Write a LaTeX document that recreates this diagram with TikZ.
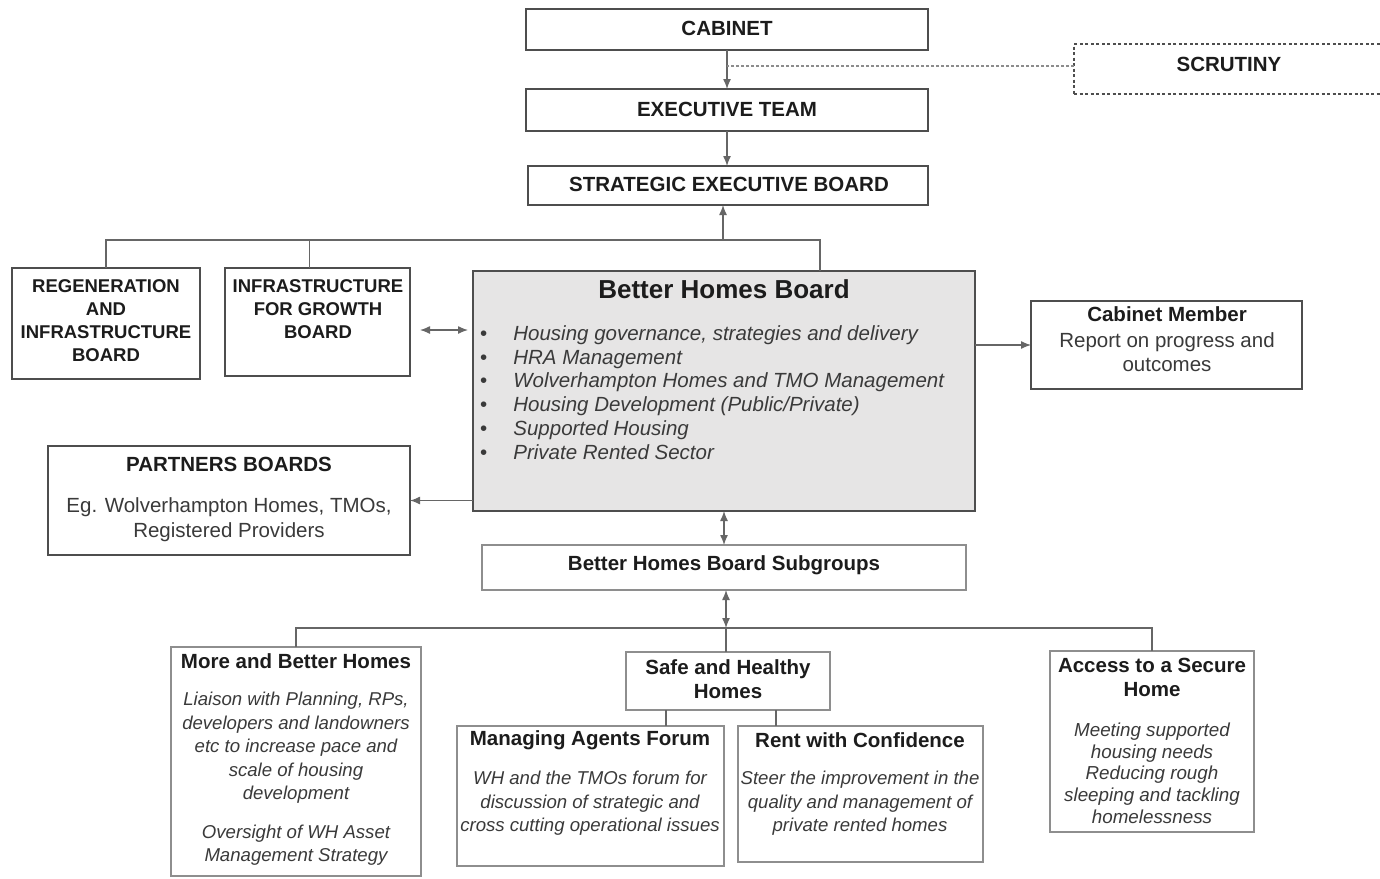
\documentclass[tikz,border=0pt]{standalone}
\usepackage{fontspec}
\setmainfont{Liberation Sans}
\usetikzlibrary{arrows.meta}
\definecolor{bord}{HTML}{4E4E4E}
\definecolor{lbord}{HTML}{8E8E8E}
\definecolor{cgray}{HTML}{666666}
\definecolor{ttl}{HTML}{1C1C1C}
\definecolor{txt}{HTML}{3A3A3A}
\definecolor{bhbfill}{HTML}{E6E5E5}
\newcommand\bnode[6]{\node[#6, minimum width={(#4-#2)*1pt}, minimum height={(#5-#3)*1pt}] (#1) at ({(#2+#4)/2},{(#3+#5)/2}) {};}
\tikzset{
  box/.style={draw=bord, line width=1.6pt, rectangle, inner sep=0pt, outer sep=0pt},
  lbox/.style={draw=lbord, line width=1.3pt, rectangle, inner sep=0pt, outer sep=0pt},
  dbox/.style={draw=bord, line width=1.3pt, dash pattern=on 3pt off 2.5pt, rectangle, inner sep=0pt, outer sep=0pt},
  tb/.style={font=\fontsize{20.5}{24}\selectfont\bfseries, text=ttl, align=center, inner sep=0pt},
  tbs/.style={font=\fontsize{18.5}{23}\selectfont\bfseries, text=ttl, align=center, inner sep=0pt},
  tn/.style={font=\fontsize{20.5}{24.5}\selectfont, text=txt, align=center, inner sep=0pt},
  ti/.style={font=\fontsize{18.6}{23.5}\selectfont\itshape, text=txt, align=center, inner sep=0pt},
  link/.style={draw=cgray, line width=1.3pt},
  dotl/.style={draw=black!45, line width=1.4pt, dash pattern=on 3pt off 2pt},
  arr/.style={link, -{Latex[length=10pt,width=8pt]}},
  darr/.style={link, {Latex[length=10pt,width=8pt]}-{Latex[length=10pt,width=8pt]}}
}
\begin{document}
\begin{tikzpicture}[x=1pt,y=-1pt]
\useasboundingbox[fill=white] (0,0) rectangle (1380,878);
% boxes
\bnode{cab}{526}{9}{928}{50}{box}
\bnode{scr}{1074}{44}{1386}{94}{dbox}
\bnode{exe}{526}{89}{928}{131}{box}
\bnode{strat}{528}{166}{928}{205}{box}
\bnode{regen}{12}{268}{200}{379}{box}
\bnode{infra}{225}{268}{410}{376}{box}
\bnode{bhb}{473}{271}{975}{511}{box, fill=bhbfill}
\bnode{cm}{1031}{301}{1302}{389}{box}
\bnode{pb}{48}{446}{410}{555}{box}
\bnode{sub}{482}{545}{966}{590}{lbox}
\bnode{more}{171}{647}{421}{876}{lbox}
\bnode{safe}{626}{652}{830}{710}{lbox}
\bnode{maf}{457}{726}{724}{866}{lbox}
\bnode{rwc}{738}{726}{983}{862}{lbox}
\bnode{acc}{1050}{651}{1254}{832}{lbox}
% texts
\node[tb] (tcab) at (727,28) {CABINET};
\node[tb] (tscr) at (1229,64) {SCRUTINY};
\node[tb] (texe) at (727,109) {EXECUTIVE TEAM};
\node[tb] (tstr) at (729,184) {STRATEGIC EXECUTIVE BOARD};
\node[tbs] (treg) at (106,321) {REGENERATION\\AND\\INFRASTRUCTURE\\BOARD};
\node[tbs] (tinf) at (318,309) {INFRASTRUCTURE\\FOR GROWTH\\BOARD};
\node[tb, font=\fontsize{26}{30}\selectfont\bfseries] (tbhb) at (724,289) {Better Homes Board};
\node[anchor=west, inner sep=0pt, text=txt, font=\fontsize{20.5}{23.8}\selectfont] (tlist) at (480,395) {%
\begin{tabular}{@{}l@{\hspace{26pt}}l@{}}
\textbullet & \textit{Housing governance, strategies and delivery}\\
\textbullet & \textit{HRA Management}\\
\textbullet & \textit{Wolverhampton Homes and TMO Management}\\
\textbullet & \textit{Housing Development (Public/Private)}\\
\textbullet & \textit{Supported Housing}\\
\textbullet & \textit{Private Rented Sector}
\end{tabular}};
\node[tb] (tcm1) at (1167,314) {Cabinet Member};
\node[tn] (tcm2) at (1167,352) {Report on progress and\\outcomes};
\node[tb] (tpb1) at (229,464) {PARTNERS BOARDS};
\node[tn] (tpb2) at (229,519.5) {Eg. Wolverhampton Homes, TMOs,\\Registered Providers};
\node[tb] (tsub) at (724,565) {Better Homes Board Subgroups};
\node[tb] (tmore1) at (296,661) {More and Better Homes};
\node[ti] (tmore2) at (296,748) {Liaison with Planning, RPs,\\developers and landowners\\etc to increase pace and\\scale of housing\\development};
\node[ti] (tmore3) at (296,845) {Oversight of WH Asset\\Management Strategy};
\node[tb] (tsafe) at (728,679) {Safe and Healthy\\Homes};
\node[tb] (tmaf1) at (590,740) {Managing Agents Forum};
\node[ti] (tmaf2) at (590,803.5) {WH and the TMOs forum for\\discussion of strategic and\\cross cutting operational issues};
\node[tb] (trwc1) at (860,740) {Rent with Confidence};
\node[ti] (trwc2) at (860,803.5) {Steer the improvement in the\\quality and management of\\private rented homes};
\node[tb] (tacc1) at (1152,677.5) {Access to a Secure\\Home};
\node[ti, font=\fontsize{18.8}{21.7}\selectfont\itshape] (tacc2) at (1152,773) {Meeting supported\\housing needs\\Reducing rough\\sleeping and tackling\\homelessness};
% connectors top
\draw[arr] (cab.south) -- (exe.north);
\path (scr.west) ++(0,-3) coordinate (sc1);
\draw[dotl] (sc1) -- (sc1 -| cab.south);
\draw[arr] (exe.south) -- (exe.south |- strat.north);
\coordinate (bus) at (723,240);
\path (bhb.north) ++(96,0) coordinate (bhbtop);
\draw[link] (regen.north) |- (bhbtop |- bus) -- (bhbtop);
\path (infra.north) ++(-8,0) coordinate (inftop);
\draw[link] (inftop) -- (inftop |- bus);
\draw[arr] (bus) -- (bus |- strat.south);
% side connectors
\path (infra.east) ++(10,8) coordinate (ia1);
\path (bhb.west |- ia1) ++(-5,0) coordinate (ia2);
\draw[darr] (ia1) -- (ia2);
\draw[arr] (bhb.east |- cm.west) -- (cm.west);
\draw[arr] (bhb.west |- pb.east) -- (pb.east);
% bottom connectors
\draw[darr] (bhb.south) -- (sub.north);
\coordinate (bus2) at (726,628);
\draw[darr] (sub.south -| bus2) -- (bus2);
\draw[link] (more.north) |- (acc.north |- bus2) -- (acc.north);
\draw[link] (bus2) -- (bus2 |- safe.north);
\path (safe.south) ++(-62,0) coordinate (s1);
\path (safe.south) ++(48,0) coordinate (s2);
\draw[link] (s1) -- (s1 |- maf.north);
\draw[link] (s2) -- (s2 |- rwc.north);
\end{tikzpicture}
\end{document}
